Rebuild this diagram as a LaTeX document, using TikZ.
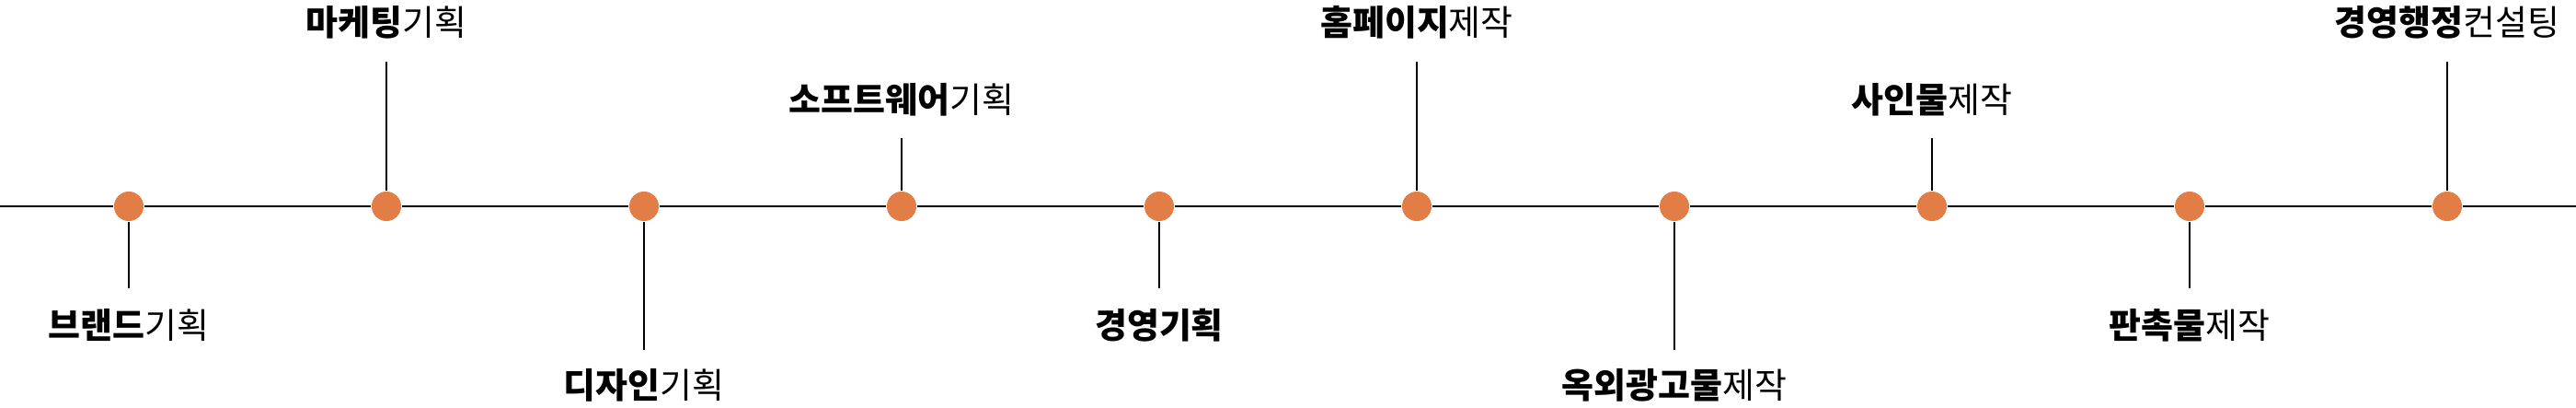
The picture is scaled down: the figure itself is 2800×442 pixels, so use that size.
\documentclass[tikz,border=0pt]{standalone}
\usepackage{fontspec}
\setmainfont{Noto Sans CJK KR}
\usetikzlibrary{positioning}
\definecolor{dotorange}{HTML}{E27D45}
\tikzset{
  dot/.style  = {draw=none, circle, fill=dotorange, minimum size=0.32cm, inner sep=0pt},
  lbl/.style  = {anchor=base, inner sep=0pt, font=\fontsize{10.8pt}{13pt}\selectfont},
  axis/.style = {line width=0.8pt},
  tick/.style = {line width=0.65pt}
}
\begin{document}
\begin{tikzpicture}[x=0.01cm, y=-0.01cm]
          \useasboundingbox (0,0) rectangle (2800,442);

          \node[dot] at ( 140,224) (d1)  {};
          \node[dot] at ( 420,224) (d2)  {};
          \node[dot] at ( 700,224) (d3)  {};
          \node[dot] at ( 980,224) (d4)  {};
          \node[dot] at (1260,224) (d5)  {};
          \node[dot] at (1540,224) (d6)  {};
          \node[dot] at (1820,224) (d7)  {};
          \node[dot] at (2100,224) (d8)  {};
          \node[dot] at (2380,224) (d9)  {};
          \node[dot] at (2660,224) (d10) {};

          \coordinate (left)  at (0,224);
          \coordinate (right) at (2800,224);

          % ends of the ticks
          \coordinate (t1)  at ( 140,313);
          \coordinate (t2)  at ( 420, 67);
          \coordinate (t3)  at ( 700,380);
          \coordinate (t4)  at ( 980,150);
          \coordinate (t5)  at (1260,313);
          \coordinate (t6)  at (1540, 67);
          \coordinate (t7)  at (1820,380);
          \coordinate (t8)  at (2100,150);
          \coordinate (t9)  at (2380,313);
          \coordinate (t10) at (2660, 67);

          \node[lbl] at ( 140,367) (l1)  {\textbf{브랜드}기획};
          \node[lbl] at ( 420, 38) (l2)  {\textbf{마케팅}기획};
          \node[lbl] at ( 700,432) (l3)  {\textbf{디자인}기획};
          \node[lbl] at ( 980,122) (l4)  {\textbf{소프트웨어}기획};
          \node[lbl] at (1260,367) (l5)  {\textbf{경영기획}};
          \node[lbl] at (1540, 38) (l6)  {\textbf{홈페이지}제작};
          \node[lbl] at (1820,432) (l7)  {\textbf{옥외광고물}제작};
          \node[lbl] at (2100,122) (l8)  {\textbf{사인물}제작};
          \node[lbl] at (2380,367) (l9)  {\textbf{판촉물}제작};
          \node[lbl] at (2660, 38) (l10) {\textbf{경영행정}컨설팅};

          \draw[axis] (left) -- (d1) -- (d2) -- (d3) -- (d4) -- (d5)
                      -- (d6) -- (d7) -- (d8) -- (d9) -- (d10) -- (right);

          \draw[tick] (d1)  -- (t1);
          \draw[tick] (d2)  -- (t2);
          \draw[tick] (d3)  -- (t3);
          \draw[tick] (d4)  -- (t4);
          \draw[tick] (d5)  -- (t5);
          \draw[tick] (d6)  -- (t6);
          \draw[tick] (d7)  -- (t7);
          \draw[tick] (d8)  -- (t8);
          \draw[tick] (d9)  -- (t9);
          \draw[tick] (d10) -- (t10);
        \end{tikzpicture}
\end{document}
